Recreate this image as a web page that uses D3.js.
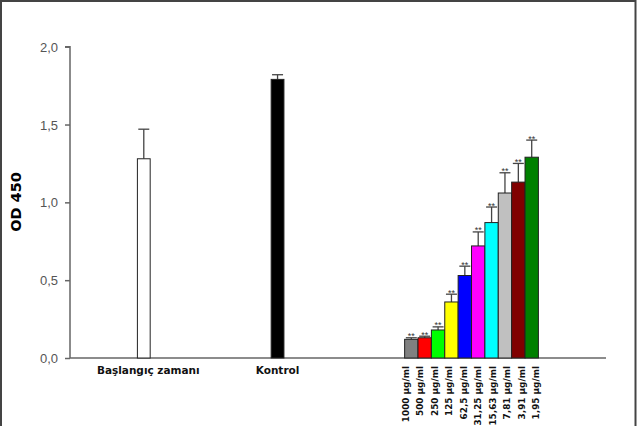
<!DOCTYPE html>
<html><head><meta charset="utf-8">
<script src="https://cdn.jsdelivr.net/npm/d3@7"></script>
<style>body{margin:0;background:#fff}svg{display:block}</style>
</head><body>
<script>
const categories = ["Başlangıç zamanı","Kontrol","1000 µg/ml","500 µg/ml","250 µg/ml","125 µg/ml","62,5 µg/ml","31,25 µg/ml","15,63 µg/ml","7,81 µg/ml","3,91 µg/ml","1,95 µg/ml"];
const values = [1.28,1.79,0.12,0.13,0.18,0.36,0.53,0.72,0.87,1.06,1.13,1.29];
const errors = [0.19,0.03,0.01,0.01,0.02,0.05,0.06,0.09,0.10,0.13,0.12,0.11];
const colors = ["#ffffff","#000000","#808080","#ff0000","#00ff00","#ffff00","#0000ff","#ff00ff","#00ffff","#c0c0c0","#800000","#008000"];
const signif = ["","","**","**","**","**","**","**","**","**","**","**"];
const yTicks = [0,0.5,1.0,1.5,2.0];

const W=637,H=426;
const svg=d3.select("body").append("svg").attr("width",W).attr("height",H);

// frame
svg.append("rect").attr("x",1).attr("y",1).attr("width",634.5).attr("height",440)
  .attr("fill","none").attr("stroke","#444").attr("stroke-width",2);

// slot layout: first two categories spaced by 10 slots, concentration bars contiguous
const slotOf = (i)=> i<2 ? i*10 : 18+i;
const x = d3.scaleBand().domain(d3.range(30)).range([137.1,538.4]).padding(0);
const y = d3.scaleLinear().domain([0,2]).range([358,46.7]);
// rotated concentration labels fan out slightly wider than the bars
const xLab = d3.scalePoint().domain(categories.slice(2)).range([405,535.5]);

const g=svg.append("g");

// y axis
const yAxis=d3.axisLeft(y).tickValues(yTicks).tickSize(5).tickSizeOuter(0)
  .tickFormat(d=>d3.format(".1f")(d).replace(".",","));
const ya=g.append("g").attr("transform","translate(70,0)").call(yAxis);
ya.select(".domain").attr("stroke","#666").attr("stroke-width",1.5).attr("d","M-5,46.7H0V358");
ya.selectAll(".tick line").attr("stroke","#666").attr("stroke-width",1.5);
ya.selectAll(".tick text").attr("x",-12).attr("dy","0.35em").attr("fill","#555")
  .style("font-family","Liberation Sans, Arial, sans-serif").style("font-size","13px");

// x baseline
g.append("line").attr("x1",70).attr("x2",606).attr("y1",y(0)).attr("y2",y(0))
  .attr("stroke","#666").attr("stroke-width",1.5);

const data=categories.map((c,i)=>({c,i,v:values[i],e:errors[i],col:colors[i],s:signif[i]}));

// error bars
const cap=11;
const eb=g.selectAll(".eb").data(data).enter().append("g");
eb.append("line").attr("x1",d=>x(slotOf(d.i))+x.bandwidth()/2).attr("x2",d=>x(slotOf(d.i))+x.bandwidth()/2)
  .attr("y1",d=>y(d.v)).attr("y2",d=>y(d.v+d.e)).attr("stroke","#444").attr("stroke-width",1.3);
eb.append("line").attr("x1",d=>x(slotOf(d.i))+x.bandwidth()/2-cap/2).attr("x2",d=>x(slotOf(d.i))+x.bandwidth()/2+cap/2)
  .attr("y1",d=>y(d.v+d.e)).attr("y2",d=>y(d.v+d.e)).attr("stroke","#444").attr("stroke-width",1.3);

// bars
g.selectAll(".bar").data(data).enter().append("rect")
  .attr("x",d=>x(slotOf(d.i))+(d.i<2?0.3:0)).attr("width",d=>x.bandwidth()-(d.i<2?0.6:0))
  .attr("y",d=>y(d.v)).attr("height",d=>y(0)-y(d.v))
  .attr("fill",d=>d.col).attr("stroke","#222").attr("stroke-width",1);

// significance marks
g.selectAll(".sig").data(data.filter(d=>d.s)).enter().append("text")
  .attr("x",d=>x(slotOf(d.i))+x.bandwidth()/2).attr("y",d=>y(d.v+d.e)+1.5)
  .attr("text-anchor","middle").attr("fill","#333")
  .style("font-family","Liberation Sans, Arial, sans-serif").style("font-size","9px").text(d=>d.s);

// category labels
g.selectAll(".lab").data(data.filter(d=>d.i<2)).enter().append("text")
  .attr("x",d=>x(slotOf(d.i))+x.bandwidth()/2+(d.i===0?4.5:0)).attr("y",374)
  .attr("text-anchor","middle").attr("fill","#111")
  .style("font-family","DejaVu Sans, Verdana, sans-serif").style("font-weight","bold").style("font-size","10.5px")
  .text(d=>d.c);
g.selectAll(".rlab").data(data.filter(d=>d.i>=2)).enter().append("text")
  .attr("transform",d=>`translate(${xLab(d.c)+3.5},366) rotate(-90)`)
  .attr("text-anchor","end").attr("fill","#111")
  .style("font-family","DejaVu Sans, Verdana, sans-serif").style("font-weight","bold").style("font-size","8.9px")
  .text(d=>d.c);

// y title
svg.append("text").attr("transform","translate(21,202) rotate(-90)").attr("text-anchor","middle")
  .attr("fill","#000").style("font-family","DejaVu Sans, Verdana, sans-serif").style("font-weight","bold").style("font-size","14.5px")
  .text("OD 450");
</script>
</body></html>
